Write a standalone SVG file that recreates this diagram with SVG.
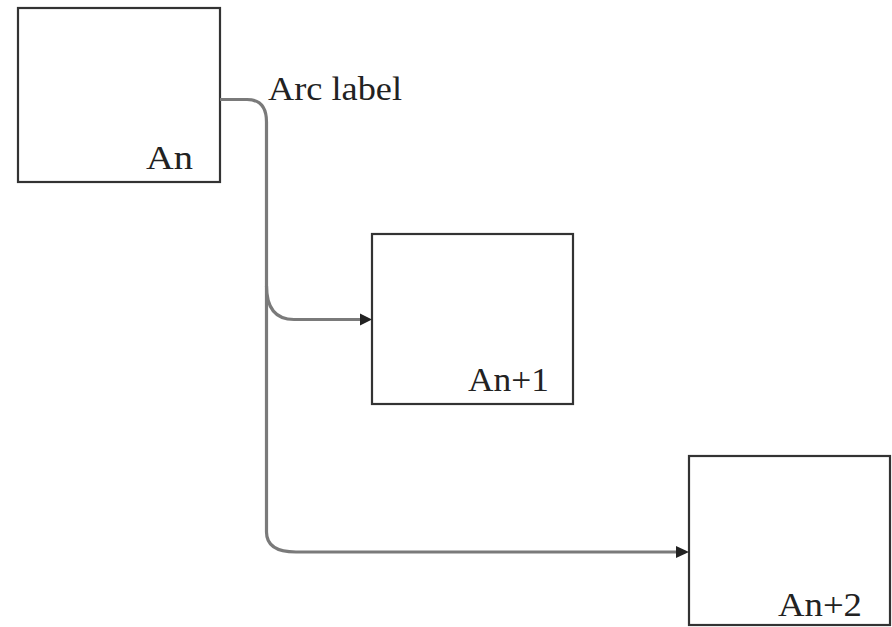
<svg xmlns="http://www.w3.org/2000/svg" width="892" height="627" viewBox="0 0 892 627">
<defs>
<style>
.box{fill:#fff;stroke:#333;stroke-width:2.2}
.lbl{font-family:"Liberation Serif",serif;font-size:34px;fill:#222}
.conn{fill:none;stroke:#7a7a7a;stroke-width:3.2}
.head{fill:#222}
</style>
</defs>
<rect width="892" height="627" fill="#fff"/>
<g id="n1">
<rect class="box" x="18" y="8" width="202" height="174"/>
<text class="lbl" x="146" y="169" textLength="47" lengthAdjust="spacingAndGlyphs">An</text>
</g>
<g id="n2">
<rect class="box" x="372" y="234" width="201" height="170"/>
<text class="lbl" x="468" y="391" textLength="81" lengthAdjust="spacingAndGlyphs">An+1</text>
</g>
<g id="n3">
<rect class="box" x="689" y="456" width="201" height="169"/>
<text class="lbl" x="778" y="616" textLength="84" lengthAdjust="spacingAndGlyphs">An+2</text>
</g>
<g id="connectors">
<path class="conn" d="M220 99.5 H247 Q266.5 99.5 266.5 122 V532 Q266.5 552 296 552 H676"/>
<path class="conn" d="M266.5 286 Q266.5 319.5 294 319.5 H360"/>
<polygon class="head" points="360,313.5 372,319.5 360,325.5"/>
<polygon class="head" points="676,546 689,552 676,558"/>
<text class="lbl" x="268" y="100" textLength="134" lengthAdjust="spacingAndGlyphs">Arc label</text>
</g>
</svg>
